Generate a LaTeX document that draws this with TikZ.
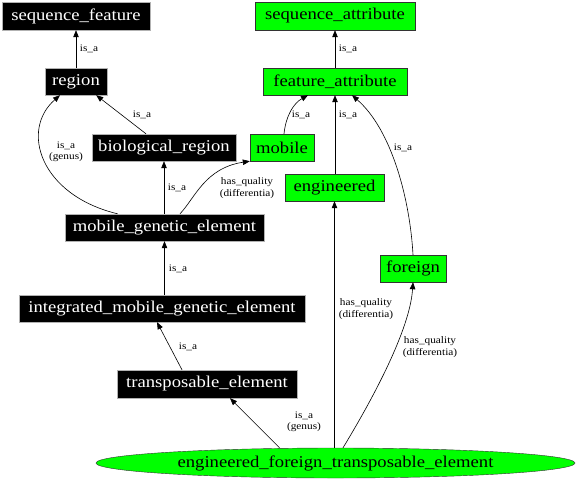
\documentclass[tikz,border=0pt]{standalone}
\usepackage{fontspec}
\setmainfont{Liberation Serif}
\newfontfamily\nodefont[FakeStretch=1.13]{Liberation Serif}
\usetikzlibrary{arrows.meta,shapes.geometric,calc}
\definecolor{gvgreen}{HTML}{00FF00}
\tikzset{
  x=1pt,y=-1pt,
  base/.style={inner sep=0pt,font=\nodefont\fontsize{16.5}{19}\selectfont},
  bbox/.style n args={2}{base,rectangle,fill=black,draw=gray!60,text=white,minimum width=#1,minimum height=#2},
  gbox/.style n args={2}{base,rectangle,fill=gvgreen,draw=black!80,text=black,minimum width=#1,minimum height=#2},
  lbl/.style={inner sep=0pt,align=center,font=\nodefont\fontsize{10}{11.5}\selectfont},
  edge/.style={draw=black,line width=0.6pt,-{Triangle[length=7pt,width=5.5pt]}},
}
\begin{document}
\begin{tikzpicture}
\useasboundingbox (0,0) rectangle (576,483);
% nodes
\node[bbox={148}{28}] (sf) at (76,16) {sequence\_feature};
\node[bbox={62}{27}] (region) at (76,81.5) {region};
\node[bbox={144}{27}] (br) at (164,147.5) {biological\_region};
\node[bbox={199}{27}] (mgi) at (164.5,227.5) {mobile\_genetic\_element};
\node[bbox={286}{27}] (imgi) at (162,308.5) {integrated\_mobile\_genetic\_element};
\node[bbox={180}{28}] (te) at (207,384) {transposable\_element};
\node[gbox={160}{28}] (sa) at (335,16) {sequence\_attribute};
\node[gbox={144}{27}] (fa) at (335,81.5) {feature\_attribute};
\node[gbox={64}{27}] (mobile) at (282,147.5) {mobile};
\node[gbox={99}{27}] (eng) at (334.5,187.5) {engineered};
\node[gbox={66}{27}] (foreign) at (413,268.5) {foreign};
\node[base,ellipse,fill=gvgreen,draw=black!80,minimum width=479,minimum height=30] (eft) at (335.5,463) {engineered\_foreign\_transposable\_element};
% labels
\node[lbl] (l1) at (89,49) {is\_a};
\node[lbl] (l2) at (142,115) {is\_a};
\node[lbl] (l3) at (66,152) {is\_a\\(genus)};
\node[lbl] (l4) at (177,188) {is\_a};
\node[lbl] (l5) at (247,188) {has\_quality\\(differentia)};
\node[lbl] (l6) at (178,269) {is\_a};
\node[lbl] (l7) at (188,347) {is\_a};
\node[lbl] (l8) at (304,422) {is\_a\\(genus)};
\node[lbl] (l9) at (366,309) {has\_quality\\(differentia)};
\node[lbl] (l10) at (430,347) {has\_quality\\(differentia)};
\node[lbl] (l11) at (403,148) {is\_a};
\node[lbl] (l12) at (348,115) {is\_a};
\node[lbl] (l13) at (301,115) {is\_a};
\node[lbl] (l14) at (348,49) {is\_a};
% edges
\draw[edge] (region.north) -- (sf.south);
\draw[edge] ($(br.north)+(-18,0)$) -- ($(region.south east)+(-11,0)$);
\draw[edge] ($(mgi.north)+(-47,0)$) .. controls (40,195) and (20,130) .. ($(region.south)+(-16,0)$);
\draw[edge] (mgi.north -| br.south) -- (br.south);
\draw[edge] ($(mgi.north)+(15.5,0)$) .. controls (195,198) and (205,168) .. (mobile.south west);
\draw[edge] (imgi.north -| mgi.south) -- (mgi.south);
\draw[edge] ($(te.north)+(-25,0)$) -- ($(imgi.south)+(-5,0)$);
\draw[edge] ($(eft.north)+(-56,0)$) -- ($(te.south)+(23,0)$);
\draw[edge] (eft.north -| eng.south) -- (eng.south);
\draw[edge] ($(eft.north)+(7.5,0)$) .. controls (372,400) and (410,330) .. (foreign.south);
\draw[edge] (foreign.north) .. controls (410,200) and (392,130) .. ($(fa.south)+(17,0)$);
\draw[edge] (eng.north -| fa.south) -- (fa.south);
\draw[edge] ($(mobile.north)+(2,0)$) .. controls (286,115) and (294,103) .. ($(fa.south)+(-27,0)$);
\draw[edge] (fa.north) -- (sa.south);
\end{tikzpicture}
\end{document}
